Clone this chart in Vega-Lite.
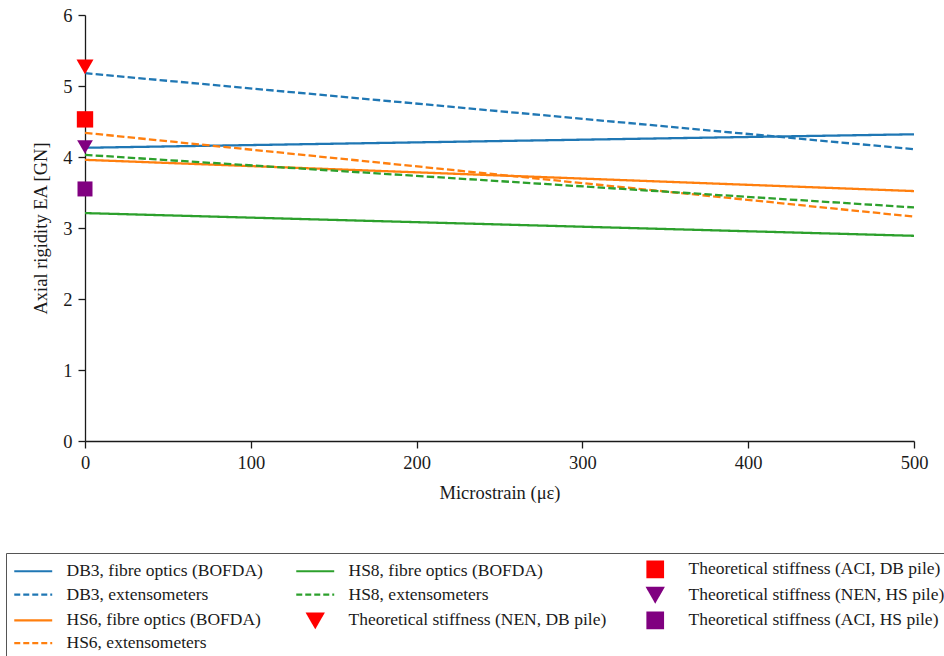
{
  "$schema": "https://vega.github.io/schema/vega-lite/v6.json",
  "width": 829,
  "height": 426,
  "autosize": "none",
  "padding": {"left": 85, "top": 15, "right": 30, "bottom": 215},
  "background": "white",
  "config": {
    "font": "Liberation Serif",
    "view": {"stroke": null},
    "axis": {
      "grid": false,
      "domainColor": "#1a1a1a",
      "domainWidth": 1.3,
      "tickColor": "#1a1a1a",
      "tickWidth": 1.3,
      "tickSize": 7,
      "labelFont": "Liberation Serif",
      "labelFontSize": 18.5,
      "labelColor": "#1a1a1a",
      "labelFlush": false,
      "labelOverlap": false,
      "titleFont": "Liberation Serif",
      "titleFontSize": 18.5,
      "titleFontWeight": "normal",
      "titleColor": "#1a1a1a"
    }
  },
  "data": {
    "values": [
      {"series": "DB3, fibre optics (BOFDA)", "kind": "line", "strain": 0, "ea": 4.13},
      {"series": "DB3, fibre optics (BOFDA)", "kind": "line", "strain": 500, "ea": 4.32},
      {"series": "DB3, extensometers", "kind": "line", "strain": 0, "ea": 5.18},
      {"series": "DB3, extensometers", "kind": "line", "strain": 500, "ea": 4.11},
      {"series": "HS6, fibre optics (BOFDA)", "kind": "line", "strain": 0, "ea": 3.96},
      {"series": "HS6, fibre optics (BOFDA)", "kind": "line", "strain": 500, "ea": 3.52},
      {"series": "HS6, extensometers", "kind": "line", "strain": 0, "ea": 4.34},
      {"series": "HS6, extensometers", "kind": "line", "strain": 500, "ea": 3.16},
      {"series": "HS8, fibre optics (BOFDA)", "kind": "line", "strain": 0, "ea": 3.21},
      {"series": "HS8, fibre optics (BOFDA)", "kind": "line", "strain": 500, "ea": 2.89},
      {"series": "HS8, extensometers", "kind": "line", "strain": 0, "ea": 4.03},
      {"series": "HS8, extensometers", "kind": "line", "strain": 500, "ea": 3.29},
      {"series": "Theoretical stiffness (NEN, DB pile)", "kind": "point", "strain": 0, "ea": 5.27},
      {"series": "Theoretical stiffness (ACI, DB pile)", "kind": "point", "strain": 0, "ea": 4.53},
      {"series": "Theoretical stiffness (NEN, HS pile)", "kind": "point", "strain": 0, "ea": 4.14},
      {"series": "Theoretical stiffness (ACI, HS pile)", "kind": "point", "strain": 0, "ea": 3.55}
    ]
  },
  "encoding": {
    "x": {
      "field": "strain",
      "type": "quantitative",
      "title": "Microstrain (με)",
      "scale": {"domain": [0, 500], "nice": false, "zero": false},
      "axis": {"values": [0, 100, 200, 300, 400, 500], "labelPadding": 5, "titlePadding": 12}
    },
    "y": {
      "field": "ea",
      "type": "quantitative",
      "title": "Axial rigidity EA [GN]",
      "scale": {"domain": [0, 6], "nice": false},
      "axis": {"values": [0, 1, 2, 3, 4, 5, 6], "labelPadding": 6, "titlePadding": 12}
    },
    "color": {
      "field": "series",
      "type": "nominal",
      "scale": {
        "domain": [
          "DB3, fibre optics (BOFDA)", "HS8, fibre optics (BOFDA)", "Theoretical stiffness (ACI, DB pile)",
          "DB3, extensometers", "HS8, extensometers", "Theoretical stiffness (NEN, HS pile)",
          "HS6, fibre optics (BOFDA)", "Theoretical stiffness (NEN, DB pile)", "Theoretical stiffness (ACI, HS pile)",
          "HS6, extensometers"
        ],
        "range": [
          "#1f77b4", "#2ca02c", "#ff0000",
          "#1f77b4", "#2ca02c", "#800080",
          "#ff7f0e", "#ff0000", "#800080",
          "#ff7f0e"
        ]
      },
      "legend": {
        "orient": "none",
        "direction": "horizontal",
        "legendX": -79,
        "legendY": 538,
        "columns": 3,
        "title": null,
        "symbolSize": 240,
        "labelOffset": 35.5,
        "rowPadding": 0.7,
        "columnPadding": 28,
        "padding": 7,
        "strokeColor": "#555555",
        "fillColor": "white",
        "cornerRadius": 0,
        "labelFont": "Liberation Serif",
        "labelFontSize": 17.5,
        "labelColor": "#1a1a1a",
        "labelLimit": 0,
        "encode": {
          "symbols": {
            "update": {
              "shape": {"signal": "test(/Theoretical/, datum.label) ? (test(/NEN/, datum.label) ? 'M0.45,-0.87H2.45L1.45,0.87Z' : 'M0.45,-1H2.45V1H0.45Z') : 'M-1,0H3.9'"},
              "fill": {"signal": "test(/Theoretical/, datum.label) ? scale('color', datum.value) : 'transparent'"},
              "stroke": {"signal": "test(/Theoretical/, datum.label) ? 'transparent' : scale('color', datum.value)"},
              "strokeDash": {"signal": "test(/extensometers/, datum.label) ? [6, 3] : [1, 0]"},
              "strokeWidth": {"value": 2.2},
              "opacity": {"value": 1},
              "fillOpacity": {"value": 1},
              "strokeOpacity": {"value": 1}
            }
          }
        }
      }
    }
  },
  "layer": [
    {
      "transform": [{"filter": "datum.kind == 'line'"}],
      "mark": {"type": "line", "strokeWidth": 2.3},
      "encoding": {
        "strokeDash": {
          "field": "series",
          "type": "nominal",
          "scale": {
            "domain": [
              "DB3, fibre optics (BOFDA)", "DB3, extensometers",
              "HS6, fibre optics (BOFDA)", "HS6, extensometers",
              "HS8, fibre optics (BOFDA)", "HS8, extensometers"
            ],
            "range": [[1, 0], [7.5, 3.2], [1, 0], [7.5, 3.2], [1, 0], [7.5, 3.2]]
          },
          "legend": null
        }
      }
    },
    {
      "transform": [{"filter": "datum.kind == 'point'"}],
      "mark": {"type": "point", "filled": true, "opacity": 1, "clip": false},
      "encoding": {
        "shape": {
          "field": "series",
          "type": "nominal",
          "scale": {
            "domain": [
              "Theoretical stiffness (NEN, DB pile)", "Theoretical stiffness (ACI, DB pile)",
              "Theoretical stiffness (NEN, HS pile)", "Theoretical stiffness (ACI, HS pile)"
            ],
            "range": ["triangle-down", "square", "triangle-down", "square"]
          },
          "legend": null
        },
        "size": {
          "field": "series",
          "type": "nominal",
          "scale": {
            "domain": [
              "Theoretical stiffness (NEN, DB pile)", "Theoretical stiffness (ACI, DB pile)",
              "Theoretical stiffness (NEN, HS pile)", "Theoretical stiffness (ACI, HS pile)"
            ],
            "range": [289, 225, 289, 225]
          },
          "legend": null
        }
      }
    }
  ]
}
